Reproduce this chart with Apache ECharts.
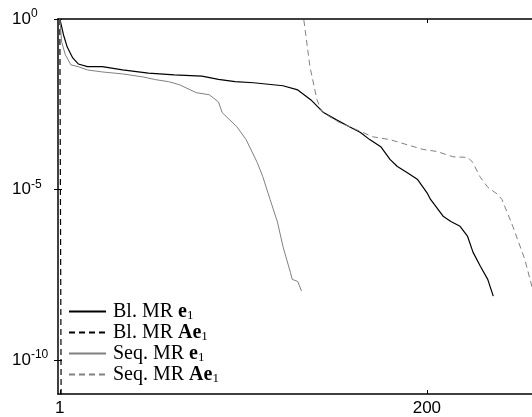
<!DOCTYPE html>
<html>
<head>
<meta charset="utf-8">
<script src="https://cdn.jsdelivr.net/npm/echarts@6/dist/echarts.min.js"></script>
<style>
html,body{margin:0;padding:0;background:#fff;}
#chart{width:532px;height:417px;}
</style>
</head>
<body>
<div id="chart"></div>
<script>
// Bl. MR e1 (black solid)
const blE1_k = [1,3,5,8,11,16,24,35,49,63,78,87,96,106,122,130,137,144,151,158,164,169,175,180,184,189,195,200,202,209,213,218,222,225,229,233,236];
const blE1_v = [1,3.4e-1,1.5e-1,7.2e-2,4.8e-2,4.0e-2,4.0e-2,3.2e-2,2.6e-2,2.3e-2,2.1e-2,1.7e-2,1.45e-2,1.35e-2,1.1e-2,8.3e-3,4.3e-3,1.8e-3,1.1e-3,6.9e-4,4.7e-4,2.9e-4,1.8e-4,7.6e-5,4.7e-5,3.2e-5,1.95e-5,8.1e-6,5.1e-6,1.6e-6,1.15e-6,8.3e-7,4.3e-7,1.45e-7,5.6e-8,2.3e-8,7.4e-9];
// Bl. MR Ae1 (black dashed)
const blAe1_k = [1,2];
const blAe1_v = [1,1e-16];
// Seq. MR e1 (gray solid)
const seqE1_k = [1,2,4,7,11,16,24,35,46,53,60,66,75,82,87,89,97,102,108,111,115,119,122,126,127,130,132];
const seqE1_v = [1,2.1e-1,8.9e-2,4.5e-2,4.0e-2,3.2e-2,2.8e-2,2.45e-2,2.0e-2,1.66e-2,1.45e-2,1.17e-2,6.9e-3,6.0e-3,3.7e-3,1.8e-3,6.9e-4,2.9e-4,6.2e-5,2.4e-5,5.1e-6,1.1e-6,2.1e-7,3.7e-8,2.3e-8,2.0e-8,1.05e-8];
// Seq. MR Ae1 (gray dashed)
const seqAe1_k = [131.7,133.3,136.6,140.4,143.1,147.4,152.8,159.3,170.7,179.9,197.8,205.4,214.1,222.2,224.9,228.7,233.1,238.5,240.7,246.6,253.1,256.9,259.1];
const seqAe1_v = [13.8,0.93,4.0e-2,4.3e-3,1.9e-3,1.35e-3,9.1e-4,6.5e-4,3.5e-4,2.9e-4,1.5e-4,1.3e-4,9.1e-5,8.7e-5,6.2e-5,2.4e-5,1.15e-5,7.1e-6,5.1e-6,8.3e-7,8.9e-8,1.45e-8,4.4e-9];

const xTicks = [1,200];
const yTicks = [1,1e-5,1e-10];
const seriesNames = ['Bl. MR e1','Bl. MR Ae1','Seq. MR e1','Seq. MR Ae1'];
const legendLabels = {
  'Bl. MR e1': 'Bl. MR {b|e}{sub|1}',
  'Bl. MR Ae1': 'Bl. MR {b|Ae}{sub|1}',
  'Seq. MR e1': 'Seq. MR {b|e}{sub|1}',
  'Seq. MR Ae1': 'Seq. MR {b|Ae}{sub|1}'
};

function pairs(k, v){ return k.map((x,i)=>[x, v[i]]); }

const chart = echarts.init(document.getElementById('chart'), null, {renderer:'canvas'});
const axisLineStyle = {color:'#000', width:1.5};
const tickStyle = {show:true, inside:true, length:4, lineStyle:{color:'#000', width:1}};
const serif = 'Liberation Serif';

chart.setOption({
  animation:false,
  backgroundColor:'#fff',
  grid:{left:58, right:0, top:19, bottom:22},
  xAxis:[
    {type:'value', min:0, max:257, position:'bottom',
     axisLine:{show:true, onZero:false, lineStyle:axisLineStyle},
     axisTick:Object.assign({customValues:xTicks}, tickStyle),
     axisLabel:{customValues:xTicks, color:'#000', fontFamily:'Liberation Sans', fontSize:17, margin:6},
     splitLine:{show:false}},
    {type:'value', min:0, max:257, position:'top',
     axisLine:{show:true, onZero:false, lineStyle:axisLineStyle},
     axisTick:Object.assign({customValues:xTicks}, tickStyle),
     axisLabel:{show:false},
     splitLine:{show:false}}
  ],
  yAxis:[
    {type:'log', logBase:10, min:1e-11, max:1, position:'left',
     axisLine:{show:true, onZero:false, lineStyle:axisLineStyle},
     axisTick:Object.assign({customValues:yTicks}, tickStyle),
     axisLabel:{customValues:yTicks, align:'left', margin:46, color:'#000',
       formatter:function(v){ const e=Math.round(Math.log10(v)); return '{b|10}{s|'+(e<0?'-':'')+Math.abs(e)+'}'; },
       rich:{
         b:{fontFamily:'Liberation Sans', fontSize:17, color:'#000', lineHeight:22},
         s:{fontFamily:'Liberation Sans', fontSize:12, color:'#000', lineHeight:22, verticalAlign:'top', padding:[0,0,10,0]}
       }},
     splitLine:{show:false}, minorTick:{show:false}},
    {type:'log', logBase:10, min:1e-11, max:1, position:'right',
     axisLine:{show:false},
     axisTick:Object.assign({customValues:yTicks}, tickStyle),
     axisLabel:{show:false},
     splitLine:{show:false}, minorTick:{show:false}}
  ],
  legend:{
    orient:'vertical', left:63, top:296, itemWidth:37, itemHeight:14, itemGap:0,
    data:seriesNames,
    itemStyle:{color:'transparent', borderColor:'transparent', borderWidth:0, opacity:0},
    formatter:function(n){ return legendLabels[n]; },
    textStyle:{fontFamily:serif, fontSize:20, color:'#000', padding:[0,0,0,2], lineHeight:21,
      rich:{
        b:{fontFamily:serif, fontSize:20, fontWeight:'bold', color:'#000', lineHeight:21},
        sub:{fontFamily:serif, fontSize:13, color:'#000', verticalAlign:'bottom', lineHeight:17}
      }}
  },
  series:[
    {name:seriesNames[0], type:'line', data:pairs(blE1_k, blE1_v), symbol:'none', showSymbol:false,
     lineStyle:{color:'#000', width:1.2, type:'solid'}, itemStyle:{color:'#000'}, clip:true},
    {name:seriesNames[1], type:'line', data:pairs(blAe1_k, blAe1_v), symbol:'none', showSymbol:false,
     lineStyle:{color:'#000', width:1.2, type:[6,4]}, itemStyle:{color:'#000'}, clip:true},
    {name:seriesNames[2], type:'line', data:pairs(seqE1_k, seqE1_v), symbol:'none', showSymbol:false,
     lineStyle:{color:'#808080', width:1, type:'solid'}, itemStyle:{color:'#808080'}, clip:true},
    {name:seriesNames[3], type:'line', data:pairs(seqAe1_k, seqAe1_v), symbol:'none', showSymbol:false,
     lineStyle:{color:'#808080', width:1, type:[6,4]}, itemStyle:{color:'#808080'}, clip:true}
  ]
});
</script>
</body>
</html>
